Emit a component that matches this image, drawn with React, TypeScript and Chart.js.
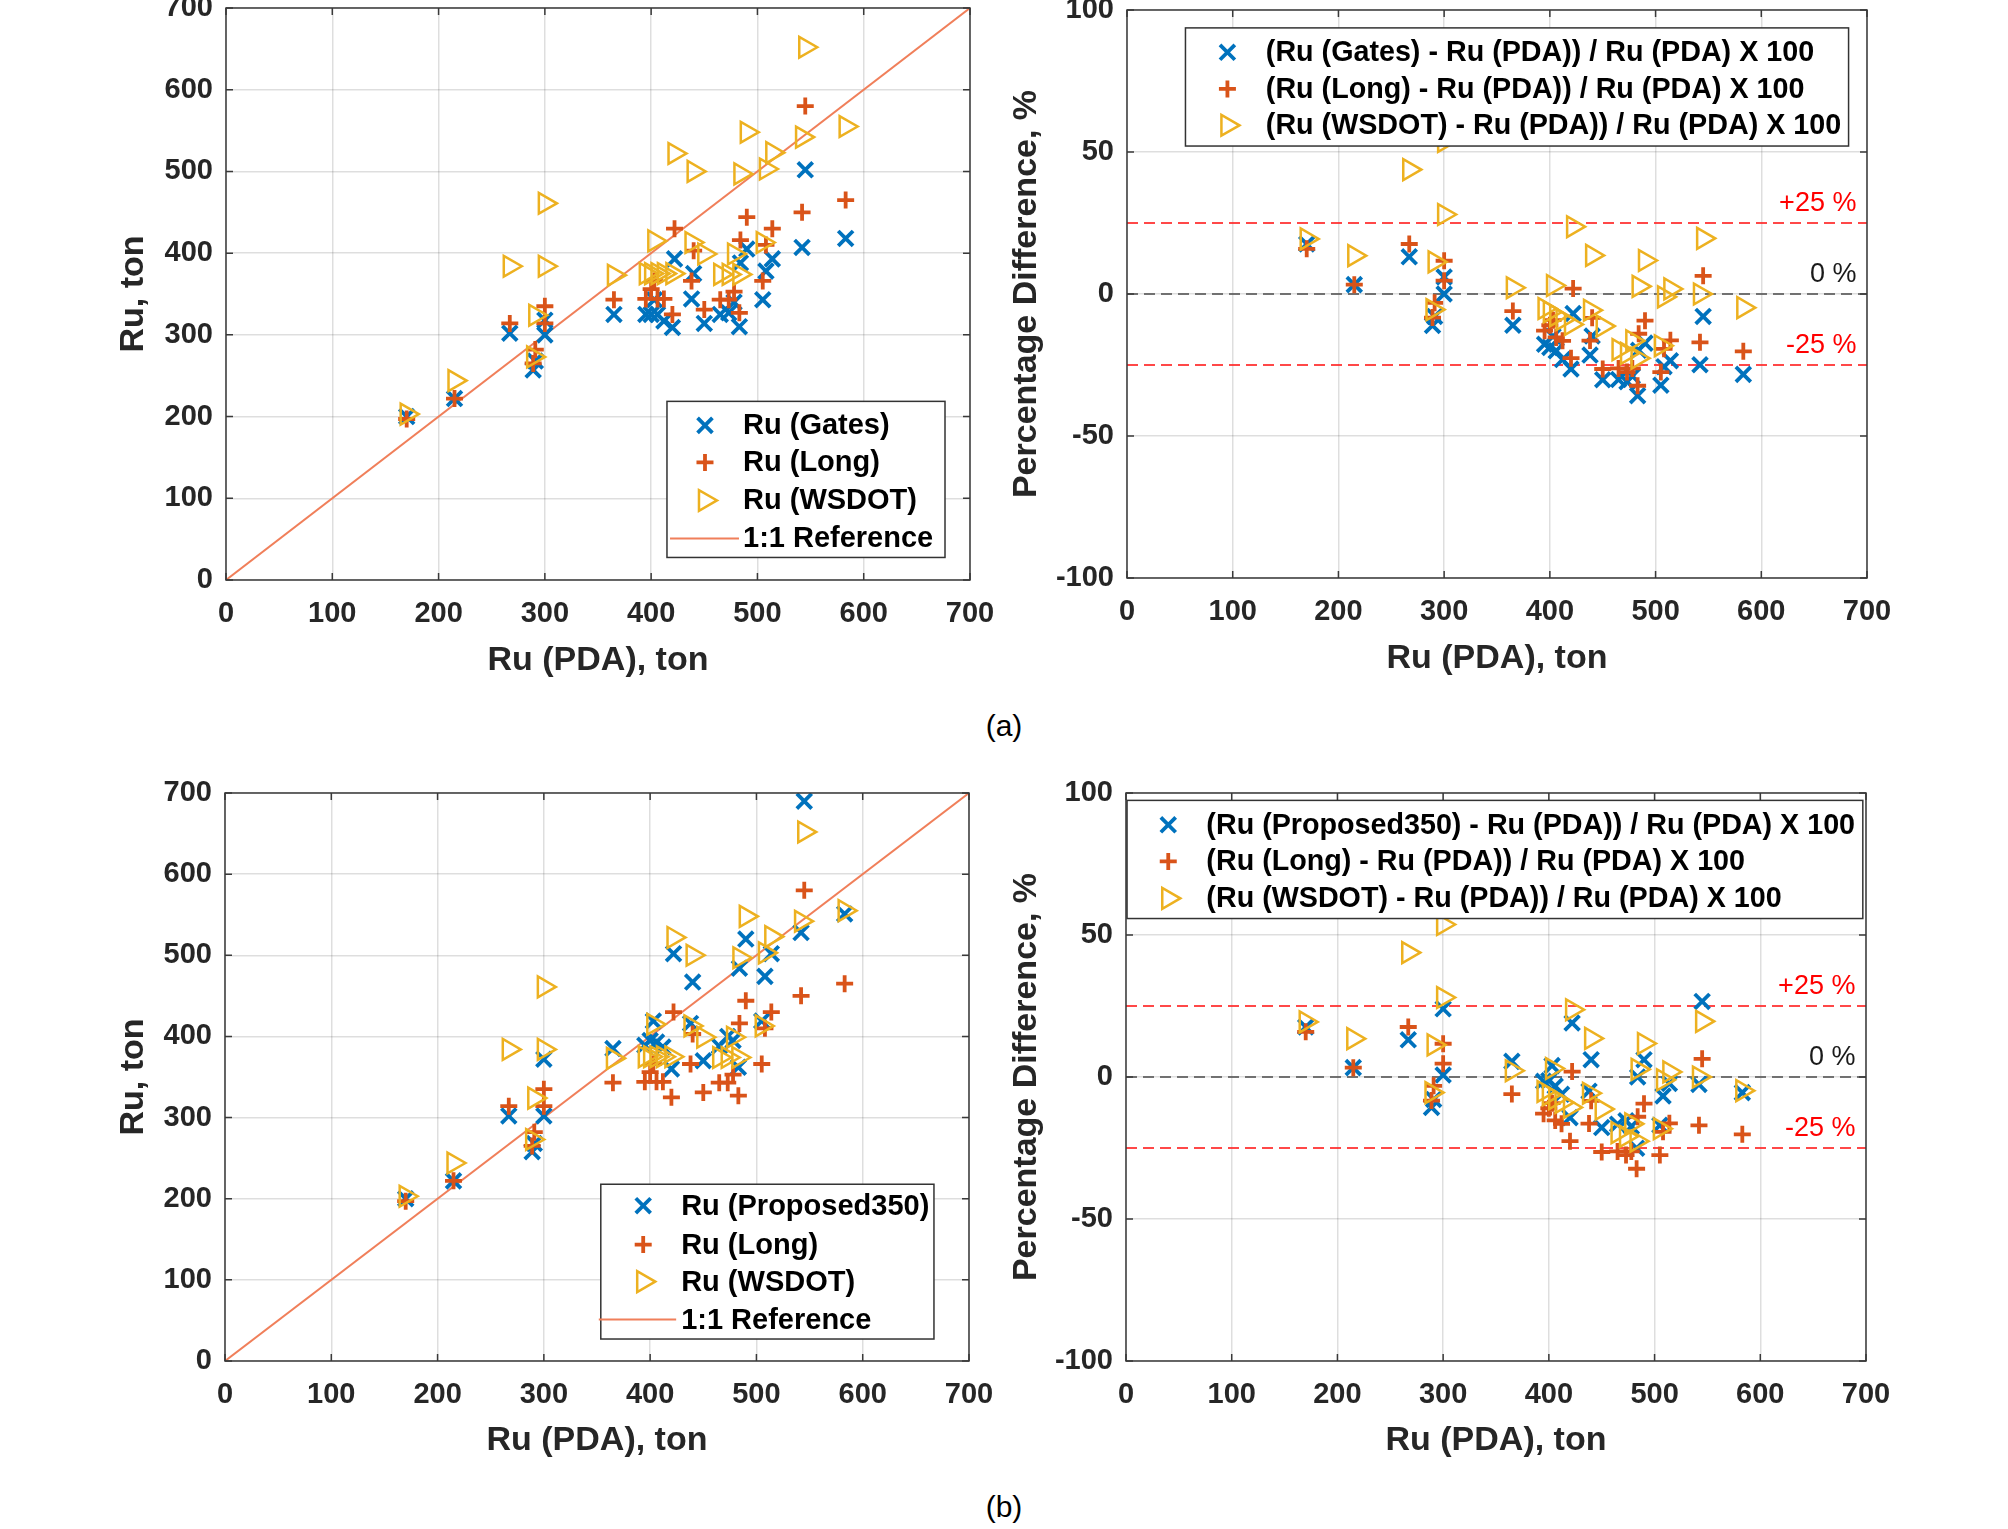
import React, { useEffect, useRef } from 'react';
import { Chart, registerables } from 'chart.js';

Chart.register(...registerables);

// ---------------- data ----------------
const pda = [170, 215, 267, 289, 291, 300, 300, 365, 395, 400, 406, 412, 403, 420, 422, 440, 438, 450, 465, 473, 478, 483, 484, 490, 505, 508, 514, 542, 545, 583];
const ruGates = [200, 222, 302, 257, 268, 318, 300, 325, 325, 325, 325, 317, 343, 309, 393, 375, 344, 314, 325, 327, 340, 310, 388, 405, 343, 378, 393, 407, 502, 418];
const ruLong = [197, 222, 314, 265, 282, 335, 314, 343, 344, 356, 344, 344, 366, 325, 430, 403, 366, 331, 343, 343, 353, 327, 416, 444, 366, 410, 430, 450, 580, 465];
const ruWsdot = [203, 244, 384, 273, 324, 461, 384, 373, 375, 375, 375, 375, 415, 375, 522, 500, 413, 399, 374, 374, 399, 374, 497, 548, 413, 503, 523, 542, 652, 555];
const ruProposed = [200, 222, 302, 258, 268, 372, 302, 385, 389, 395, 393, 387, 419, 360, 502, 467, 416, 370, 388, 400, 395, 362, 484, 520, 419, 474, 502, 528, 690, 551];

const pctGates = [17.6, 3.3, 13.1, -11.1, -7.9, 6.0, 0.0, -11.0, -17.7, -18.8, -20.0, -23.1, -14.9, -26.4, -6.9, -14.8, -21.5, -30.2, -30.1, -30.9, -28.9, -35.8, -19.8, -17.3, -32.1, -25.6, -23.5, -24.9, -7.9, -28.3];
const pctLong = [15.9, 3.3, 17.6, -8.3, -3.1, 11.7, 4.7, -6.0, -12.9, -11.0, -15.3, -16.5, -9.2, -22.6, 1.9, -8.4, -16.4, -26.4, -26.2, -27.5, -26.2, -32.3, -14.0, -9.4, -27.5, -19.3, -16.3, -17.0, 6.4, -20.2];
const pctWsdot = [19.4, 13.5, 43.8, -5.5, 11.3, 53.7, 28.0, 2.2, -5.1, -6.3, -7.6, -9.0, 3.0, -10.7, 23.7, 13.6, -5.7, -11.3, -19.6, -20.9, -16.5, -22.6, 2.7, 11.8, -18.2, -1.0, 1.8, 0.0, 19.6, -4.8];
const pctProposed = [17.6, 3.3, 13.1, -10.7, -7.9, 24.0, 0.7, 5.5, -1.5, -1.3, -3.2, -6.1, 4.0, -14.3, 19.0, 6.1, -5.0, -17.8, -16.6, -15.4, -17.4, -25.1, 0.0, 6.1, -17.0, -6.7, -2.3, -2.6, 26.6, -5.5];

const refX = [0, 700];
const refY = [0, 700];
const bandX = [0, 700];
const plus25 = [25, 25];
const zeroLine = [0, 0];
const minus25 = [-25, -25];
const refLabelText = ['+25 %', '0 %', '-25 %'];
const refLabelY = [32, 7, -18];
const refLabelX = 690;

// ---------------- style ----------------
const BLUE = '#0072BD';
const RED = '#D95319';
const YEL = '#EDB120';
const REFC = '#F07F5A';
const INK = '#262626';
const GRID = 'rgba(0,0,0,0.13)';
const FONT = '"Liberation Sans", Arial, Helvetica, sans-serif';

type Marker = 'x' | '+' | '>';
type Series = { label: string; x: number[]; y: number[]; color: string; marker: Marker };

const MK = {
  x: { r: 10.5, lw: 3.8 },
  plus: { r: 8.5, lw: 3.8 },
  tri: { r: 12, lw: 2.5 },
};

function pts(xs: number[], ys: number[]) {
  return xs.map((x, i) => ({ x, y: ys[i] }));
}

function markerProps(m: Marker) {
  if (m === 'x') return { pointStyle: 'crossRot', pointRadius: MK.x.r, pointBorderWidth: MK.x.lw, pointRotation: 0 };
  if (m === '+') return { pointStyle: 'cross', pointRadius: MK.plus.r, pointBorderWidth: MK.plus.lw, pointRotation: 0 };
  return { pointStyle: 'triangle', pointRadius: MK.tri.r, pointBorderWidth: MK.tri.lw, pointRotation: 90 };
}

function drawMarker(ctx: CanvasRenderingContext2D, m: Marker, color: string, x: number, y: number) {
  ctx.save();
  ctx.strokeStyle = color;
  ctx.beginPath();
  if (m === 'x') {
    const d = MK.x.r * 0.7071;
    ctx.lineWidth = MK.x.lw;
    ctx.moveTo(x - d, y - d); ctx.lineTo(x + d, y + d);
    ctx.moveTo(x - d, y + d); ctx.lineTo(x + d, y - d);
  } else if (m === '+') {
    const r = MK.plus.r;
    ctx.lineWidth = MK.plus.lw;
    ctx.moveTo(x - r, y); ctx.lineTo(x + r, y);
    ctx.moveTo(x, y - r); ctx.lineTo(x, y + r);
  } else {
    const r = MK.tri.r;
    ctx.lineWidth = MK.tri.lw;
    ctx.moveTo(x + r, y);
    ctx.lineTo(x - 0.5 * r, y + 0.866 * r);
    ctx.lineTo(x - 0.5 * r, y - 0.866 * r);
    ctx.closePath();
  }
  ctx.stroke();
  ctx.restore();
}

// ---------------- plugins ----------------
const framePlugin = {
  id: 'frameBox',
  afterDatasetsDraw(chart: any) {
    const { ctx, chartArea: ca } = chart;
    const xs = chart.scales.x, ys = chart.scales.y;
    ctx.save();
    ctx.strokeStyle = '#3a3a3a';
    ctx.lineWidth = 1.5;
    const tl = 7;
    ctx.beginPath();
    xs.ticks.forEach((t: any) => {
      const px = xs.getPixelForValue(t.value);
      ctx.moveTo(px, ca.bottom); ctx.lineTo(px, ca.bottom - tl);
      ctx.moveTo(px, ca.top); ctx.lineTo(px, ca.top + tl);
    });
    ys.ticks.forEach((t: any) => {
      const py = ys.getPixelForValue(t.value);
      ctx.moveTo(ca.left, py); ctx.lineTo(ca.left + tl, py);
      ctx.moveTo(ca.right, py); ctx.lineTo(ca.right - tl, py);
    });
    ctx.stroke();
    ctx.strokeRect(ca.left, ca.top, ca.right - ca.left, ca.bottom - ca.top);
    ctx.restore();
  },
};

const refLabelPlugin = {
  id: 'refLabels',
  afterDatasetsDraw(chart: any, _args: any, opts: any) {
    if (!opts || !opts.show) return;
    const { ctx } = chart;
    const xs = chart.scales.x, ys = chart.scales.y;
    ctx.save();
    ctx.font = `27px ${FONT}`;
    ctx.textAlign = 'right';
    ctx.textBaseline = 'middle';
    refLabelText.forEach((t, i) => {
      ctx.fillStyle = t === '0 %' ? '#1a1a1a' : '#FF0000';
      ctx.fillText(t, xs.getPixelForValue(refLabelX), ys.getPixelForValue(refLabelY[i]));
    });
    ctx.restore();
  },
};

const innerLegendPlugin = {
  id: 'innerLegend',
  afterDraw(chart: any, _args: any, opts: any) {
    if (!opts || !opts.rows) return;
    const { ctx, chartArea: ca } = chart;
    const W = ca.right - ca.left, H = ca.bottom - ca.top;
    const X = (f: number) => ca.left + f * W;
    const Y = (f: number) => ca.top + f * H;
    ctx.save();
    const x0 = X(opts.box[0]), y0 = Y(opts.box[1]), x1 = X(opts.box[2]), y1 = Y(opts.box[3]);
    ctx.fillStyle = '#ffffff';
    ctx.fillRect(x0, y0, x1 - x0, y1 - y0);
    ctx.strokeStyle = '#333333';
    ctx.lineWidth = 1.5;
    ctx.strokeRect(x0, y0, x1 - x0, y1 - y0);
    ctx.font = `bold ${opts.fontSize}px ${FONT}`;
    ctx.textBaseline = 'middle';
    ctx.textAlign = 'left';
    opts.rows.forEach((row: any, i: number) => {
      const y = Y(opts.rowY[i]);
      if (row.line) {
        ctx.strokeStyle = row.color;
        ctx.lineWidth = 2;
        ctx.beginPath();
        ctx.moveTo(X(opts.line[0]), y);
        ctx.lineTo(X(opts.line[1]), y);
        ctx.stroke();
      } else {
        drawMarker(ctx, row.marker, row.color, X(opts.markerX), y);
      }
      ctx.fillStyle = '#000000';
      ctx.fillText(row.text, X(opts.textX), y + 1);
    });
    ctx.restore();
  },
};

// ---------------- config ----------------
type Geo = { left: number; top: number; w: number; h: number; padTop: number; yW: number; yTitlePad: number; xTitlePad: number };

const PAD_RIGHT = 46;

function buildConfig(g: Geo, kind: 'ru' | 'pct', series: Series[], legend: any): any {
  const isRu = kind === 'ru';
  const datasets: any[] = [];
  if (isRu) {
    datasets.push({
      label: '1:1 Reference', data: pts(refX, refY), showLine: true, borderColor: REFC, borderWidth: 2,
      pointRadius: 0, order: 10,
    });
  } else {
    const mk = (ys: number[], color: string, label: string) => ({
      label, data: pts(bandX, ys), showLine: true, borderColor: color, borderWidth: 2, borderDash: [11, 6],
      pointRadius: 0, order: 10,
    });
    datasets.push(mk(plus25, 'rgba(255,40,40,0.85)', '+25'));
    datasets.push(mk(zeroLine, 'rgba(100,100,100,0.9)', '0'));
    datasets.push(mk(minus25, 'rgba(255,40,40,0.85)', '-25'));
  }
  series.forEach((s, i) => {
    datasets.push({
      label: s.label,
      data: pts(s.x, s.y),
      showLine: false,
      borderColor: s.color,
      backgroundColor: 'rgba(0,0,0,0)',
      pointBorderColor: s.color,
      pointBackgroundColor: 'rgba(0,0,0,0)',
      ...markerProps(s.marker),
      order: 3 - i,
    });
  });
  const tickFont = { family: FONT, size: 29, weight: 'bold' as const };
  const titleFont = { family: FONT, size: 34, weight: 'bold' as const };
  return {
    type: 'scatter',
    data: { datasets },
    plugins: [framePlugin, refLabelPlugin, innerLegendPlugin],
    options: {
      responsive: false,
      animation: false,
      devicePixelRatio: 1,
      events: [],
      layout: { padding: { left: 0, top: g.padTop, right: PAD_RIGHT, bottom: 0 } },
      plugins: {
        legend: { display: false },
        tooltip: { enabled: false },
        innerLegend: legend,
        refLabels: { show: !isRu },
      },
      scales: {
        x: {
          type: 'linear', min: 0, max: 700,
          ticks: { stepSize: 100, padding: 16.6, color: INK, font: tickFont, maxRotation: 0, autoSkip: false },
          grid: { color: GRID, lineWidth: 1.5, drawTicks: false },
          border: { display: false },
          title: { display: true, text: 'Ru (PDA), ton', color: INK, font: titleFont, padding: { top: 0, bottom: g.xTitlePad } },
          afterFit: (s: any) => { s.height = 110; },
        },
        y: {
          type: 'linear', min: isRu ? 0 : -100, max: isRu ? 700 : 100,
          ticks: { stepSize: isRu ? 100 : 50, padding: 13, color: INK, font: tickFont, autoSkip: false },
          grid: { color: GRID, lineWidth: 1.5, drawTicks: false },
          border: { display: false },
          title: { display: true, text: isRu ? 'Ru, ton' : 'Percentage Difference, %', color: INK, font: titleFont, padding: { top: g.yTitlePad, bottom: 0 } },
          afterFit: (s: any) => { s.width = g.yW; },
        },
      },
    },
  };
}

// ---------------- panels ----------------
// plot areas: TL 226..970 x 8..580 ; TR 1127..1867 x 10..578 ; BL 225..969 x 793..1361 ; BR 1126..1866 x 793..1361
const geoTL: Geo = { left: 60, top: -28, w: 166 + 744 + PAD_RIGHT, h: 36 + 572 + 110, padTop: 36, yW: 166, yTitlePad: 53.6, xTitlePad: 9 };
const geoTR: Geo = { left: 980, top: -26, w: 147 + 740 + PAD_RIGHT, h: 36 + 568 + 110, padTop: 36, yW: 147, yTitlePad: 26.6, xTitlePad: 8.6 };
const geoBL: Geo = { left: 60, top: 757, w: 165 + 744 + PAD_RIGHT, h: 36 + 568 + 110, padTop: 36, yW: 165, yTitlePad: 53.6, xTitlePad: 9.6 };
const geoBR: Geo = { left: 980, top: 757, w: 146 + 740 + PAD_RIGHT, h: 36 + 568 + 110, padTop: 36, yW: 146, yTitlePad: 26.6, xTitlePad: 9.6 };

const seriesTL: Series[] = [
  { label: 'Ru (Gates)', x: pda, y: ruGates, color: BLUE, marker: 'x' },
  { label: 'Ru (Long)', x: pda, y: ruLong, color: RED, marker: '+' },
  { label: 'Ru (WSDOT)', x: pda, y: ruWsdot, color: YEL, marker: '>' },
];
const seriesTR: Series[] = [
  { label: '(Ru (Gates) - Ru (PDA)) / Ru (PDA) X 100', x: pda, y: pctGates, color: BLUE, marker: 'x' },
  { label: '(Ru (Long) - Ru (PDA)) / Ru (PDA) X 100', x: pda, y: pctLong, color: RED, marker: '+' },
  { label: '(Ru (WSDOT) - Ru (PDA)) / Ru (PDA) X 100', x: pda, y: pctWsdot, color: YEL, marker: '>' },
];
const seriesBL: Series[] = [
  { label: 'Ru (Proposed350)', x: pda, y: ruProposed, color: BLUE, marker: 'x' },
  { label: 'Ru (Long)', x: pda, y: ruLong, color: RED, marker: '+' },
  { label: 'Ru (WSDOT)', x: pda, y: ruWsdot, color: YEL, marker: '>' },
];
const seriesBR: Series[] = [
  { label: '(Ru (Proposed350) - Ru (PDA)) / Ru (PDA) X 100', x: pda, y: pctProposed, color: BLUE, marker: 'x' },
  { label: '(Ru (Long) - Ru (PDA)) / Ru (PDA) X 100', x: pda, y: pctLong, color: RED, marker: '+' },
  { label: '(Ru (WSDOT) - Ru (PDA)) / Ru (PDA) X 100', x: pda, y: pctWsdot, color: YEL, marker: '>' },
];

function legendRows(series: Series[], withRef: boolean) {
  const rows: any[] = series.map((s) => ({ text: s.label, color: s.color, marker: s.marker }));
  if (withRef) rows.push({ text: '1:1 Reference', color: REFC, line: true });
  return rows;
}

const legendTL = {
  rows: legendRows(seriesTL, true), fontSize: 29,
  box: [0.5927, 0.6877, 0.9664, 0.9606], rowY: [0.7297, 0.7944, 0.8609, 0.9274],
  markerX: 0.6438, textX: 0.6949, line: [0.5968, 0.6895],
};
const legendBL = {
  rows: legendRows(seriesBL, true), fontSize: 29,
  box: [0.5051, 0.6888, 0.9529, 0.9613], rowY: [0.7265, 0.795, 0.8602, 0.9271],
  markerX: 0.5621, textX: 0.6131, line: [0.5024, 0.6064],
};
const legendTR = {
  rows: legendRows(seriesTR, false), fontSize: 28.7,
  box: [0.079, 0.0315, 0.9751, 0.2395], rowY: [0.0745, 0.139, 0.203],
  markerX: 0.1357, textX: 0.1876, line: [0, 0],
};
const legendBR = {
  rows: legendRows(seriesBR, false), fontSize: 28.7,
  box: [0.0014, 0.013, 0.9957, 0.221], rowY: [0.056, 0.1205, 0.1855],
  markerX: 0.0571, textX: 0.1086, line: [0, 0],
};

function Panel({ g, kind, series, legend }: { g: Geo; kind: 'ru' | 'pct'; series: Series[]; legend: any }) {
  const ref = useRef<HTMLCanvasElement>(null);
  useEffect(() => {
    const chart = new Chart(ref.current as HTMLCanvasElement, buildConfig(g, kind, series, legend));
    return () => chart.destroy();
  }, []);
  return (
    <canvas
      ref={ref}
      width={g.w}
      height={g.h}
      style={{ position: 'absolute', left: g.left, top: g.top, width: g.w, height: g.h, display: 'block' }}
    />
  );
}

function Caption({ text, x, y }: { text: string; x: number; y: number }) {
  return (
    <div
      style={{
        position: 'absolute', left: x, top: y, transform: 'translate(-50%, -50%)',
        fontFamily: FONT, fontSize: 30, lineHeight: 1, color: '#000', whiteSpace: 'nowrap',
      }}
    >
      {text}
    </div>
  );
}

export default function App() {
  return (
    <div style={{ position: 'absolute', left: 0, top: 0, width: 2008, height: 1529, overflow: 'hidden', background: '#ffffff' }}>
      <Panel g={geoTL} kind="ru" series={seriesTL} legend={legendTL} />
      <Panel g={geoTR} kind="pct" series={seriesTR} legend={legendTR} />
      <Panel g={geoBL} kind="ru" series={seriesBL} legend={legendBL} />
      <Panel g={geoBR} kind="pct" series={seriesBR} legend={legendBR} />
      <Caption text="(a)" x={1004} y={726} />
      <Caption text="(b)" x={1004} y={1507} />
    </div>
  );
}
